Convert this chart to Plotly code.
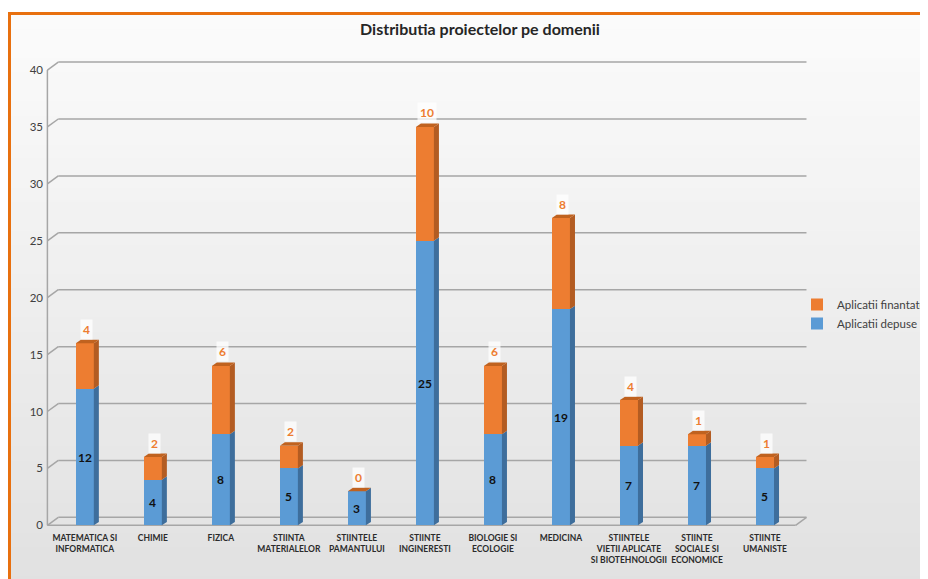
import plotly.graph_objects as go

categories = [
    "MATEMATICA SI<br>INFORMATICA", "CHIMIE", "FIZICA", "STIINTA<br>MATERIALELOR",
    "STIINTELE<br>PAMANTULUI", "STIINTE<br>INGINERESTI", "BIOLOGIE SI<br>ECOLOGIE",
    "MEDICINA", "STIINTELE<br>VIETII APLICATE<br>SI BIOTEHNOLOGII",
    "STIINTE<br>SOCIALE SI<br>ECONOMICE", "STIINTE<br>UMANISTE",
]
depuse = [12, 4, 8, 5, 3, 25, 8, 19, 7, 7, 5]
finantate = [4, 2, 6, 2, 0, 10, 6, 8, 4, 1, 1]
y_ticks = [0, 5, 10, 15, 20, 25, 30, 35, 40]

BLUE, BLUE_SIDE = "#5b9bd5", "#3e6e9c"
ORANGE, ORANGE_SIDE, ORANGE_TOP = "#ed7d31", "#b35c22", "#c0621f"

OFF = 8  # page body margin
W, H = 920, 571
L, R, T, B = 36, 112, 45, 48
pw, ph = W - L - R, H - T - B
XR = [-0.6, 10.75]
YR = [-0.5, 41.5]

def px(xp):  # page x -> paper
    return (xp - OFF - L) / pw

def py(yp):  # page y -> paper
    return (H - B - (yp - OFF)) / ph

xs = list(range(len(categories)))
bw = 0.265
dx, dy = 0.074, 0.3

fig = go.Figure()
fig.add_trace(go.Bar(x=xs, y=depuse, name="Aplicatii depuse", marker=dict(color=BLUE, line=dict(width=0)), width=bw))
fig.add_trace(go.Bar(x=xs, y=finantate, name="Aplicatii finantate", marker=dict(color=ORANGE, line=dict(width=0)), width=bw))

shapes = []
# gradient background
N = 40
y0p, y1p = 15, 590
for i in range(N):
    a = y0p + (y1p - y0p) * i / N
    b = y0p + (y1p - y0p) * (i + 1) / N + 1
    t = i / (N - 1)
    c = int(round(251 - t * (251 - 225)))
    shapes.append(dict(type="rect", xref="paper", yref="paper", x0=px(11), x1=px(940),
                       y0=py(b), y1=py(a), fillcolor=f"rgb({c},{c},{c})", line=dict(width=0), layer="below"))
# orange border
shapes.append(dict(type="line", xref="paper", yref="paper", x0=px(8), x1=px(940), y0=py(13.5), y1=py(13.5),
                   line=dict(color="#e8700f", width=3), layer="below"))
shapes.append(dict(type="line", xref="paper", yref="paper", x0=px(9.5), x1=px(9.5), y0=py(12), y1=py(590),
                   line=dict(color="#e8700f", width=3), layer="below"))

# 3D walls / gridlines
fx0, fx1 = -0.55, 10.45
gdx, gdy = 0.16, 0.7
GRID = "#a6a6a6"
for v in y_ticks:
    shapes.append(dict(type="line", xref="x", yref="y", x0=fx0 + gdx, x1=fx1 + gdx, y0=v + gdy, y1=v + gdy,
                       line=dict(color=GRID, width=1.5), layer="below"))
    shapes.append(dict(type="line", xref="x", yref="y", x0=fx0, x1=fx0 + gdx, y0=v, y1=v + gdy,
                       line=dict(color=GRID, width=1.5), layer="below"))
shapes.append(dict(type="line", xref="x", yref="y", x0=fx0, x1=fx0, y0=0, y1=40,
                   line=dict(color=GRID, width=1.5), layer="below"))
shapes.append(dict(type="line", xref="x", yref="y", x0=fx0, x1=fx1, y0=0, y1=0,
                   line=dict(color=GRID, width=1.5), layer="below"))
shapes.append(dict(type="line", xref="x", yref="y", x0=fx1, x1=fx1 + gdx, y0=0, y1=gdy,
                   line=dict(color=GRID, width=1.5), layer="below"))

def poly(pts, color):
    p = "M " + " L ".join(f"{a},{b}" for a, b in pts) + " Z"
    return dict(type="path", xref="x", yref="y", path=p, fillcolor=color, line=dict(width=0), layer="above")

annotations = []
for i, (d, f) in enumerate(zip(depuse, finantate)):
    xr = i + bw / 2
    xl = i - bw / 2
    tot = d + f
    shapes.append(poly([(xr, 0), (xr + dx, dy), (xr + dx, d + dy), (xr, d)], BLUE_SIDE))
    if f > 0:
        shapes.append(poly([(xr, d), (xr + dx, d + dy), (xr + dx, tot + dy), (xr, tot)], ORANGE_SIDE))
    shapes.append(poly([(xl, tot), (xl + dx, tot + dy), (xr + dx, tot + dy), (xr, tot)], ORANGE_TOP))
    annotations.append(dict(x=i, y=d / 2, xref="x", yref="y", text=f"<b>{d}</b>", showarrow=False,
                            font=dict(family="Lato", size=12, color="#111111")))
    annotations.append(dict(x=i, y=tot, xref="x", yref="y", text=f"<b>{f}</b>", showarrow=False,
                            yshift=14, xshift=2, bgcolor="rgba(255,255,255,0.75)", borderpad=2,
                            font=dict(family="Lato", size=12, color="#ed7d31")))

fig.update_layout(
    width=W, height=H,
    margin=dict(l=L, r=R, t=T, b=B, autoexpand=False),
    barmode="stack",
    paper_bgcolor="white",
    plot_bgcolor="rgba(0,0,0,0)",
    title=dict(text="<b>Distributia proiectelor pe domenii</b>", x=px(480), xanchor="center", xref="paper",
               y=1 - (29 - OFF) / H, yanchor="middle", yref="container",
               font=dict(family="Lato", size=16, color="#262626")),
    xaxis=dict(range=XR, tickvals=xs, ticktext=categories, showgrid=False, zeroline=False, showline=False,
               ticks="", tickfont=dict(family="Lato", size=8.5, color="#2b2b2b", weight="bold")),
    yaxis=dict(range=YR, tickvals=y_ticks, showgrid=False, zeroline=False, showline=False, ticks="",
               tickfont=dict(family="Lato", size=11.5, color="#404040")),
    legend=dict(x=px(797), y=py(290), xanchor="left", yanchor="top", traceorder="reversed",
                bgcolor="rgba(0,0,0,0)", font=dict(family="Lato", size=11.5, color="#404040"),
                itemwidth=30),
    shapes=shapes,
    annotations=annotations,
    showlegend=True,
)

fig.write_html("out.html")
